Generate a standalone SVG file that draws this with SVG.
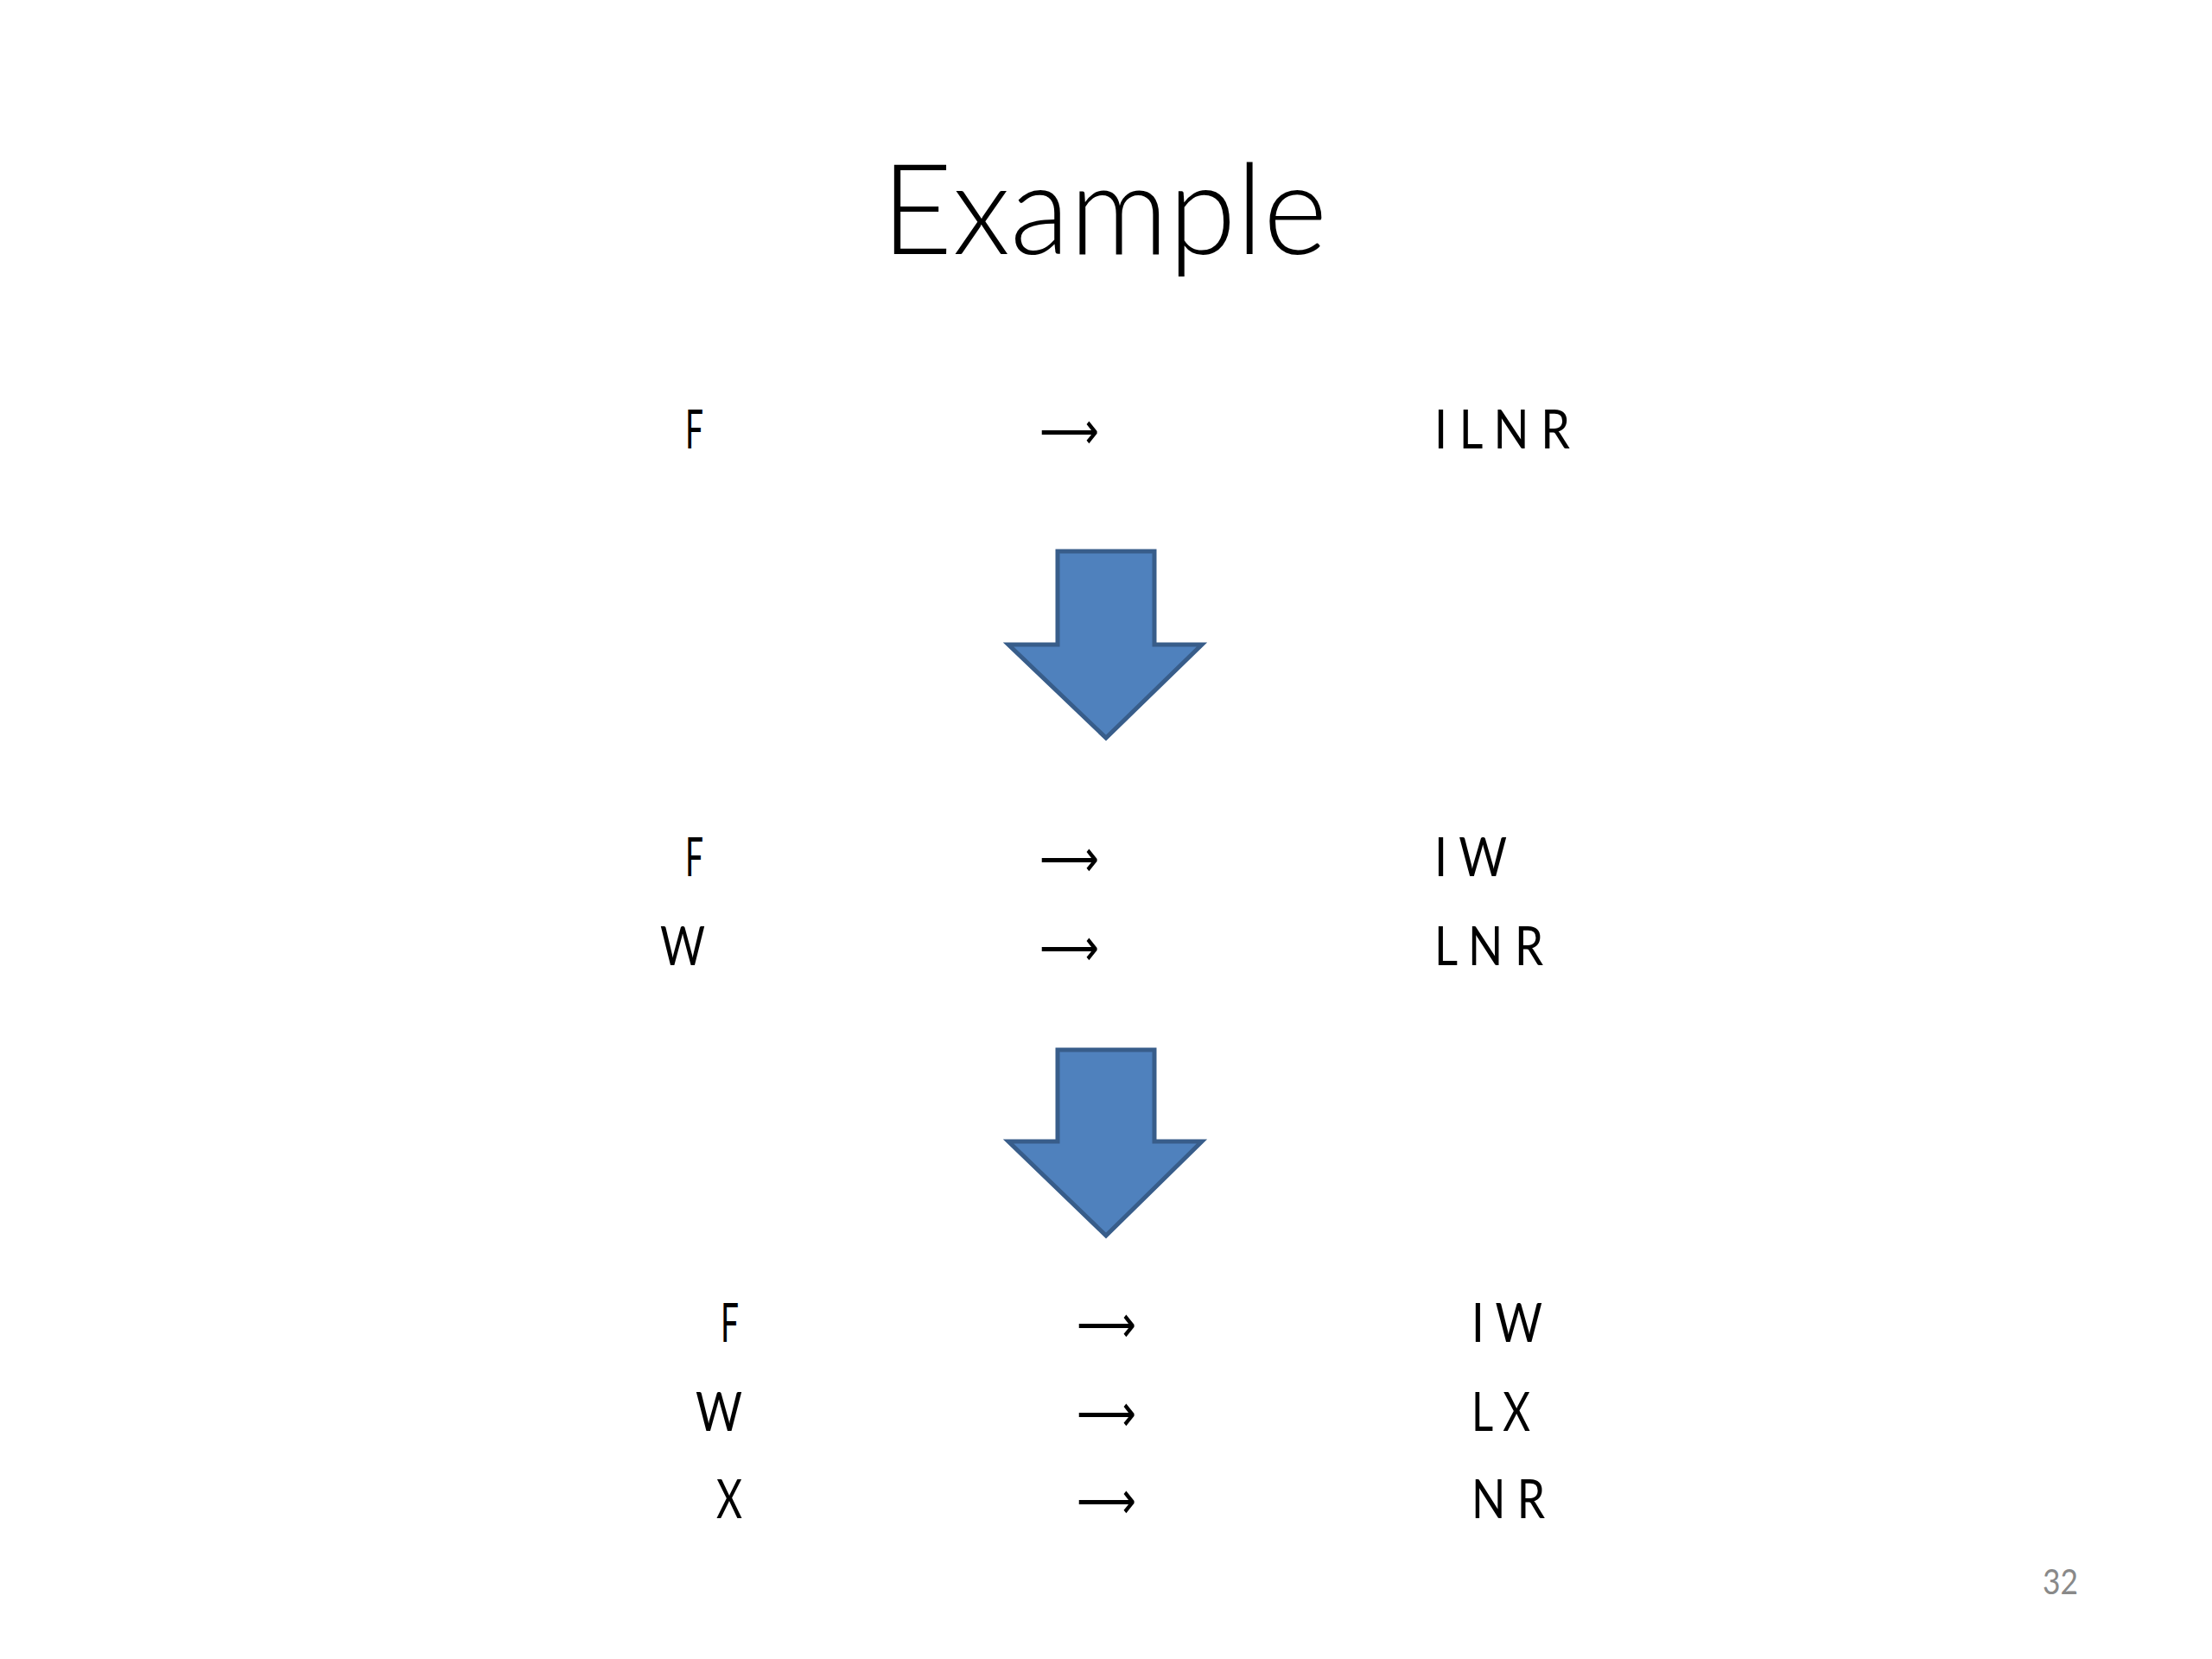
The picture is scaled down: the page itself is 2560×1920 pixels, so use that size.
<svg xmlns="http://www.w3.org/2000/svg" width="2560" height="1920" viewBox="0 0 2560 1920">
<style>
.t{font-family:Lato,"Open Sans","Liberation Sans",sans-serif;font-size:62px;fill:#000}
.ar{font-family:"DejaVu Sans","Liberation Sans",sans-serif;font-size:60px;fill:#000}
.title{font-family:Lato,"Open Sans","Liberation Sans",sans-serif;font-weight:300;font-size:146px;fill:#000}
.pg{font-family:Lato,"Open Sans","Liberation Sans",sans-serif;font-size:40px;fill:#898989}
.blk{fill:#4F81BD;stroke:#385D8A;stroke-width:5;stroke-linejoin:miter}
</style>
<rect width="2560" height="1920" fill="#fff"/>
<g id="title"><text class="title" x="1020" y="294" textLength="516" lengthAdjust="spacingAndGlyphs">Example</text></g>

<g id="grammar1">
<text class="t" x="793" y="519" textLength="21" lengthAdjust="spacingAndGlyphs">F</text>
<text class="ar" x="1203" y="519" textLength="69" lengthAdjust="spacingAndGlyphs">⟶</text>
<text class="t" x="1660" y="519" textLength="157" lengthAdjust="spacingAndGlyphs">I L N R</text>
</g>

<g id="grammar2">
<text class="t" x="793" y="1014" textLength="21" lengthAdjust="spacingAndGlyphs">F</text>
<text class="ar" x="1203" y="1014" textLength="69" lengthAdjust="spacingAndGlyphs">⟶</text>
<text class="t" x="1660" y="1014" textLength="84" lengthAdjust="spacingAndGlyphs">I W</text>
<text class="t" x="764" y="1117" textLength="52" lengthAdjust="spacingAndGlyphs">W</text>
<text class="ar" x="1203" y="1117" textLength="69" lengthAdjust="spacingAndGlyphs">⟶</text>
<text class="t" x="1660" y="1117" textLength="126" lengthAdjust="spacingAndGlyphs">L N R</text>
</g>

<g id="grammar3">
<text class="t" x="834" y="1553" textLength="21" lengthAdjust="spacingAndGlyphs">F</text>
<text class="ar" x="1246" y="1553" textLength="69" lengthAdjust="spacingAndGlyphs">⟶</text>
<text class="t" x="1703" y="1553" textLength="82" lengthAdjust="spacingAndGlyphs">I W</text>
<text class="t" x="805" y="1656" textLength="54" lengthAdjust="spacingAndGlyphs">W</text>
<text class="ar" x="1246" y="1656" textLength="69" lengthAdjust="spacingAndGlyphs">⟶</text>
<text class="t" x="1703" y="1656" textLength="68" lengthAdjust="spacingAndGlyphs">L X</text>
<text class="t" x="829" y="1757" textLength="30" lengthAdjust="spacingAndGlyphs">X</text>
<text class="ar" x="1246" y="1757" textLength="69" lengthAdjust="spacingAndGlyphs">⟶</text>
<text class="t" x="1703" y="1757" textLength="85" lengthAdjust="spacingAndGlyphs">N R</text>
</g>

<g id="connectors">
<path class="blk" d="M1224,638 H1336 V746 H1391 L1280,854 L1167,746 H1224 Z"/>
<path class="blk" d="M1224,1215 H1336 V1321 H1391 L1280,1430 L1167,1321 H1224 Z"/>
</g>

<g id="page"><text class="pg" x="2364" y="1845" textLength="41" lengthAdjust="spacingAndGlyphs">32</text></g>
</svg>
